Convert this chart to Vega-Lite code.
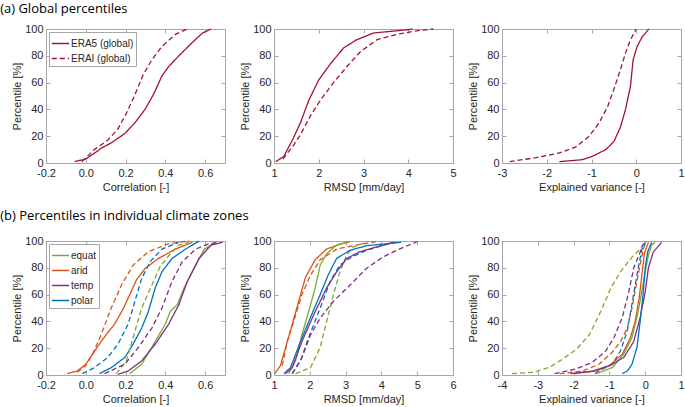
{
  "$schema": "https://vega.github.io/schema/vega-lite/v6.json",
  "padding": {"left": 0, "top": 2, "right": 0, "bottom": 0},
  "background": "white",
  "config": {
    "view": {"stroke": "#a6a6a6", "strokeWidth": 1},
    "axis": {
      "domain": false, "grid": false, "tickSize": -4, "tickColor": "#a6a6a6",
      "labelFont": "Liberation Sans", "labelFontSize": 11, "labelColor": "#262626",
      "labelPadding": 7, "labelFlush": false, "labelOverlap": false,
      "titleFont": "Liberation Sans", "titleFontSize": 11, "titleFontWeight": "normal", "titleColor": "#262626"
    },
    "axisX": {"labelPadding": 8, "titlePadding": 3},
    "axisY": {"titlePadding": 2},
    "legend": {
      "orient": "top-left", "offset": 3, "title": null, "strokeColor": "#a6a6a6", "fillColor": "white",
      "padding": 2, "labelFont": "Liberation Sans", "labelFontSize": 10, "labelColor": "#262626",
      "symbolType": "stroke", "symbolSize": 300, "symbolStrokeWidth": 1.5, "rowPadding": 0, "labelOffset": 1
    },
    "title": {"anchor": "start", "font": "Open Sans", "fontSize": 13, "fontWeight": "normal", "color": "black", "dx": -11}
  },
  "datasets": {
    "ga": [
      {"m":"corr","d":"ERA5 (global)","x":-0.056,"p":1},{"m":"corr","d":"ERA5 (global)","x":0,"p":3},{"m":"corr","d":"ERA5 (global)","x":0.06,"p":9},{"m":"corr","d":"ERA5 (global)","x":0.077,"p":11},{"m":"corr","d":"ERA5 (global)","x":0.128,"p":15},{"m":"corr","d":"ERA5 (global)","x":0.196,"p":22},{"m":"corr","d":"ERA5 (global)","x":0.247,"p":30},{"m":"corr","d":"ERA5 (global)","x":0.298,"p":40},{"m":"corr","d":"ERA5 (global)","x":0.34,"p":51},{"m":"corr","d":"ERA5 (global)","x":0.383,"p":65},{"m":"corr","d":"ERA5 (global)","x":0.417,"p":72},{"m":"corr","d":"ERA5 (global)","x":0.468,"p":80},{"m":"corr","d":"ERA5 (global)","x":0.536,"p":90},{"m":"corr","d":"ERA5 (global)","x":0.587,"p":97},{"m":"corr","d":"ERA5 (global)","x":0.63,"p":100},
      {"m":"corr","d":"ERAI (global)","x":-0.02,"p":1},{"m":"corr","d":"ERAI (global)","x":0.043,"p":10},{"m":"corr","d":"ERAI (global)","x":0.11,"p":17},{"m":"corr","d":"ERAI (global)","x":0.16,"p":25},{"m":"corr","d":"ERAI (global)","x":0.204,"p":37},{"m":"corr","d":"ERAI (global)","x":0.247,"p":51},{"m":"corr","d":"ERAI (global)","x":0.289,"p":66},{"m":"corr","d":"ERAI (global)","x":0.332,"p":77},{"m":"corr","d":"ERAI (global)","x":0.383,"p":87},{"m":"corr","d":"ERAI (global)","x":0.451,"p":96},{"m":"corr","d":"ERAI (global)","x":0.51,"p":100},
      {"m":"rmsd","d":"ERA5 (global)","x":1.04,"p":1},{"m":"rmsd","d":"ERA5 (global)","x":1.22,"p":5},{"m":"rmsd","d":"ERA5 (global)","x":1.41,"p":17},{"m":"rmsd","d":"ERA5 (global)","x":1.59,"p":30},{"m":"rmsd","d":"ERA5 (global)","x":1.78,"p":47},{"m":"rmsd","d":"ERA5 (global)","x":2.0,"p":62},{"m":"rmsd","d":"ERA5 (global)","x":2.26,"p":74},{"m":"rmsd","d":"ERA5 (global)","x":2.56,"p":86},{"m":"rmsd","d":"ERA5 (global)","x":2.85,"p":92},{"m":"rmsd","d":"ERA5 (global)","x":3.22,"p":97},{"m":"rmsd","d":"ERA5 (global)","x":4.0,"p":99.5},{"m":"rmsd","d":"ERA5 (global)","x":4.1,"p":100},
      {"m":"rmsd","d":"ERAI (global)","x":1.2,"p":3},{"m":"rmsd","d":"ERAI (global)","x":1.41,"p":12},{"m":"rmsd","d":"ERAI (global)","x":1.59,"p":21},{"m":"rmsd","d":"ERAI (global)","x":1.81,"p":35},{"m":"rmsd","d":"ERAI (global)","x":2.04,"p":47},{"m":"rmsd","d":"ERAI (global)","x":2.33,"p":60},{"m":"rmsd","d":"ERAI (global)","x":2.63,"p":72},{"m":"rmsd","d":"ERAI (global)","x":2.93,"p":83},{"m":"rmsd","d":"ERAI (global)","x":3.3,"p":92},{"m":"rmsd","d":"ERAI (global)","x":3.74,"p":96},{"m":"rmsd","d":"ERAI (global)","x":4.26,"p":99},{"m":"rmsd","d":"ERAI (global)","x":4.56,"p":100},
      {"m":"ev","d":"ERA5 (global)","x":-1.72,"p":1},{"m":"ev","d":"ERA5 (global)","x":-1.2,"p":2.5},{"m":"ev","d":"ERA5 (global)","x":-0.98,"p":5},{"m":"ev","d":"ERA5 (global)","x":-0.68,"p":10},{"m":"ev","d":"ERA5 (global)","x":-0.5,"p":16},{"m":"ev","d":"ERA5 (global)","x":-0.35,"p":27},{"m":"ev","d":"ERA5 (global)","x":-0.24,"p":40},{"m":"ev","d":"ERA5 (global)","x":-0.13,"p":57},{"m":"ev","d":"ERA5 (global)","x":-0.07,"p":77},{"m":"ev","d":"ERA5 (global)","x":0.02,"p":87},{"m":"ev","d":"ERA5 (global)","x":0.13,"p":94},{"m":"ev","d":"ERA5 (global)","x":0.28,"p":100},
      {"m":"ev","d":"ERAI (global)","x":-2.83,"p":1},{"m":"ev","d":"ERAI (global)","x":-2.24,"p":4},{"m":"ev","d":"ERAI (global)","x":-1.72,"p":7.5},{"m":"ev","d":"ERAI (global)","x":-1.35,"p":12},{"m":"ev","d":"ERAI (global)","x":-1.05,"p":20},{"m":"ev","d":"ERAI (global)","x":-0.83,"p":30},{"m":"ev","d":"ERAI (global)","x":-0.64,"p":42},{"m":"ev","d":"ERAI (global)","x":-0.5,"p":55},{"m":"ev","d":"ERAI (global)","x":-0.35,"p":70},{"m":"ev","d":"ERAI (global)","x":-0.24,"p":82},{"m":"ev","d":"ERAI (global)","x":-0.13,"p":92},{"m":"ev","d":"ERAI (global)","x":0,"p":100}
    ],
    "zb": [
      {"m":"corr","z":"arid","d":"ERA5","x":-0.094,"p":1},{"m":"corr","z":"arid","d":"ERA5","x":-0.043,"p":3},{"m":"corr","z":"arid","d":"ERA5","x":0,"p":8},{"m":"corr","z":"arid","d":"ERA5","x":0.034,"p":15.5},{"m":"corr","z":"arid","d":"ERA5","x":0.077,"p":25},{"m":"corr","z":"arid","d":"ERA5","x":0.11,"p":31.5},{"m":"corr","z":"arid","d":"ERA5","x":0.145,"p":38},{"m":"corr","z":"arid","d":"ERA5","x":0.187,"p":49},{"m":"corr","z":"arid","d":"ERA5","x":0.221,"p":60},{"m":"corr","z":"arid","d":"ERA5","x":0.255,"p":71},{"m":"corr","z":"arid","d":"ERA5","x":0.298,"p":79.5},{"m":"corr","z":"arid","d":"ERA5","x":0.366,"p":87},{"m":"corr","z":"arid","d":"ERA5","x":0.451,"p":94},{"m":"corr","z":"arid","d":"ERA5","x":0.536,"p":99},
      {"m":"corr","z":"arid","d":"ERAI","x":-0.043,"p":2},{"m":"corr","z":"arid","d":"ERAI","x":0,"p":7},{"m":"corr","z":"arid","d":"ERAI","x":0.034,"p":15.5},{"m":"corr","z":"arid","d":"ERAI","x":0.077,"p":30},{"m":"corr","z":"arid","d":"ERAI","x":0.128,"p":50},{"m":"corr","z":"arid","d":"ERAI","x":0.179,"p":67},{"m":"corr","z":"arid","d":"ERAI","x":0.238,"p":82},{"m":"corr","z":"arid","d":"ERAI","x":0.315,"p":92},{"m":"corr","z":"arid","d":"ERAI","x":0.417,"p":98},{"m":"corr","z":"arid","d":"ERAI","x":0.519,"p":100},
      {"m":"corr","z":"polar","d":"ERA5","x":0.068,"p":1},{"m":"corr","z":"polar","d":"ERA5","x":0.128,"p":5.5},{"m":"corr","z":"polar","d":"ERA5","x":0.196,"p":13},{"m":"corr","z":"polar","d":"ERA5","x":0.238,"p":23},{"m":"corr","z":"polar","d":"ERA5","x":0.281,"p":35},{"m":"corr","z":"polar","d":"ERA5","x":0.315,"p":47.5},{"m":"corr","z":"polar","d":"ERA5","x":0.349,"p":65},{"m":"corr","z":"polar","d":"ERA5","x":0.383,"p":77},{"m":"corr","z":"polar","d":"ERA5","x":0.434,"p":87},{"m":"corr","z":"polar","d":"ERA5","x":0.502,"p":94},{"m":"corr","z":"polar","d":"ERA5","x":0.57,"p":100},
      {"m":"corr","z":"polar","d":"ERAI","x":-0.017,"p":1},{"m":"corr","z":"polar","d":"ERAI","x":0.043,"p":5.5},{"m":"corr","z":"polar","d":"ERAI","x":0.11,"p":13},{"m":"corr","z":"polar","d":"ERAI","x":0.162,"p":23},{"m":"corr","z":"polar","d":"ERAI","x":0.213,"p":38},{"m":"corr","z":"polar","d":"ERAI","x":0.247,"p":55},{"m":"corr","z":"polar","d":"ERAI","x":0.281,"p":72},{"m":"corr","z":"polar","d":"ERAI","x":0.323,"p":84.5},{"m":"corr","z":"polar","d":"ERAI","x":0.383,"p":94},{"m":"corr","z":"polar","d":"ERAI","x":0.468,"p":99},
      {"m":"corr","z":"equat","d":"ERA5","x":0.221,"p":1},{"m":"corr","z":"equat","d":"ERA5","x":0.281,"p":8},{"m":"corr","z":"equat","d":"ERA5","x":0.349,"p":25},{"m":"corr","z":"equat","d":"ERA5","x":0.4,"p":38},{"m":"corr","z":"equat","d":"ERA5","x":0.425,"p":47.5},{"m":"corr","z":"equat","d":"ERA5","x":0.46,"p":52.5},{"m":"corr","z":"equat","d":"ERA5","x":0.494,"p":65},{"m":"corr","z":"equat","d":"ERA5","x":0.553,"p":82},{"m":"corr","z":"equat","d":"ERA5","x":0.596,"p":94},{"m":"corr","z":"equat","d":"ERA5","x":0.655,"p":99},
      {"m":"corr","z":"equat","d":"ERAI","x":0.153,"p":1},{"m":"corr","z":"equat","d":"ERAI","x":0.204,"p":10.5},{"m":"corr","z":"equat","d":"ERAI","x":0.238,"p":28},{"m":"corr","z":"equat","d":"ERAI","x":0.281,"p":50},{"m":"corr","z":"equat","d":"ERAI","x":0.332,"p":67},{"m":"corr","z":"equat","d":"ERAI","x":0.374,"p":81},{"m":"corr","z":"equat","d":"ERAI","x":0.417,"p":89},{"m":"corr","z":"equat","d":"ERAI","x":0.468,"p":97},{"m":"corr","z":"equat","d":"ERAI","x":0.519,"p":99},
      {"m":"corr","z":"temp","d":"ERA5","x":0.162,"p":0.5},{"m":"corr","z":"temp","d":"ERA5","x":0.213,"p":3},{"m":"corr","z":"temp","d":"ERA5","x":0.281,"p":10.5},{"m":"corr","z":"temp","d":"ERA5","x":0.349,"p":23},{"m":"corr","z":"temp","d":"ERA5","x":0.417,"p":38},{"m":"corr","z":"temp","d":"ERA5","x":0.468,"p":52.5},{"m":"corr","z":"temp","d":"ERA5","x":0.511,"p":70},{"m":"corr","z":"temp","d":"ERA5","x":0.57,"p":87},{"m":"corr","z":"temp","d":"ERA5","x":0.63,"p":97},{"m":"corr","z":"temp","d":"ERA5","x":0.689,"p":99},
      {"m":"corr","z":"temp","d":"ERAI","x":0.094,"p":1},{"m":"corr","z":"temp","d":"ERAI","x":0.196,"p":8},{"m":"corr","z":"temp","d":"ERAI","x":0.264,"p":20.5},{"m":"corr","z":"temp","d":"ERAI","x":0.332,"p":35},{"m":"corr","z":"temp","d":"ERAI","x":0.383,"p":50},{"m":"corr","z":"temp","d":"ERAI","x":0.434,"p":70},{"m":"corr","z":"temp","d":"ERAI","x":0.485,"p":84.5},{"m":"corr","z":"temp","d":"ERAI","x":0.553,"p":94},{"m":"corr","z":"temp","d":"ERAI","x":0.621,"p":98},{"m":"corr","z":"temp","d":"ERAI","x":0.672,"p":99},
      {"m":"rmsd","z":"arid","d":"ERA5","x":1.02,"p":1},{"m":"rmsd","z":"arid","d":"ERA5","x":1.18,"p":7},{"m":"rmsd","z":"arid","d":"ERA5","x":1.32,"p":20},{"m":"rmsd","z":"arid","d":"ERA5","x":1.51,"p":38},{"m":"rmsd","z":"arid","d":"ERA5","x":1.69,"p":55},{"m":"rmsd","z":"arid","d":"ERA5","x":1.88,"p":73},{"m":"rmsd","z":"arid","d":"ERA5","x":2.15,"p":86},{"m":"rmsd","z":"arid","d":"ERA5","x":2.47,"p":94},{"m":"rmsd","z":"arid","d":"ERA5","x":2.84,"p":97.5},{"m":"rmsd","z":"arid","d":"ERA5","x":3.12,"p":99.5},
      {"m":"rmsd","z":"arid","d":"ERAI","x":1.23,"p":7},{"m":"rmsd","z":"arid","d":"ERAI","x":1.37,"p":25},{"m":"rmsd","z":"arid","d":"ERAI","x":1.55,"p":40},{"m":"rmsd","z":"arid","d":"ERAI","x":1.78,"p":60},{"m":"rmsd","z":"arid","d":"ERAI","x":2.02,"p":74.5},{"m":"rmsd","z":"arid","d":"ERAI","x":2.29,"p":86},{"m":"rmsd","z":"arid","d":"ERAI","x":2.76,"p":94},{"m":"rmsd","z":"arid","d":"ERAI","x":3.4,"p":97.5},{"m":"rmsd","z":"arid","d":"ERAI","x":3.86,"p":99.5},
      {"m":"rmsd","z":"equat","d":"ERA5","x":1.41,"p":1},{"m":"rmsd","z":"equat","d":"ERA5","x":1.6,"p":10.5},{"m":"rmsd","z":"equat","d":"ERA5","x":1.78,"p":30},{"m":"rmsd","z":"equat","d":"ERA5","x":1.97,"p":47.5},{"m":"rmsd","z":"equat","d":"ERA5","x":2.15,"p":65},{"m":"rmsd","z":"equat","d":"ERA5","x":2.29,"p":82},{"m":"rmsd","z":"equat","d":"ERA5","x":2.47,"p":90.5},{"m":"rmsd","z":"equat","d":"ERA5","x":2.75,"p":97},{"m":"rmsd","z":"equat","d":"ERA5","x":3.03,"p":99},
      {"m":"rmsd","z":"equat","d":"ERAI","x":1.6,"p":1},{"m":"rmsd","z":"equat","d":"ERAI","x":2.02,"p":5.5},{"m":"rmsd","z":"equat","d":"ERAI","x":2.29,"p":20.5},{"m":"rmsd","z":"equat","d":"ERAI","x":2.47,"p":40},{"m":"rmsd","z":"equat","d":"ERAI","x":2.66,"p":60},{"m":"rmsd","z":"equat","d":"ERAI","x":2.84,"p":77},{"m":"rmsd","z":"equat","d":"ERAI","x":3.03,"p":89.5},{"m":"rmsd","z":"equat","d":"ERAI","x":3.21,"p":95.5},{"m":"rmsd","z":"equat","d":"ERAI","x":3.58,"p":99},
      {"m":"rmsd","z":"polar","d":"ERA5","x":1.28,"p":1},{"m":"rmsd","z":"polar","d":"ERA5","x":1.46,"p":5.5},{"m":"rmsd","z":"polar","d":"ERA5","x":1.74,"p":25},{"m":"rmsd","z":"polar","d":"ERA5","x":2.02,"p":43},{"m":"rmsd","z":"polar","d":"ERA5","x":2.29,"p":60},{"m":"rmsd","z":"polar","d":"ERA5","x":2.52,"p":75},{"m":"rmsd","z":"polar","d":"ERA5","x":2.75,"p":87},{"m":"rmsd","z":"polar","d":"ERA5","x":3.12,"p":93},{"m":"rmsd","z":"polar","d":"ERA5","x":3.58,"p":96.5},{"m":"rmsd","z":"polar","d":"ERA5","x":4.55,"p":99},
      {"m":"rmsd","z":"polar","d":"ERAI","x":1.51,"p":1},{"m":"rmsd","z":"polar","d":"ERAI","x":1.74,"p":10.5},{"m":"rmsd","z":"polar","d":"ERAI","x":1.97,"p":28},{"m":"rmsd","z":"polar","d":"ERAI","x":2.29,"p":50},{"m":"rmsd","z":"polar","d":"ERAI","x":2.57,"p":70},{"m":"rmsd","z":"polar","d":"ERAI","x":2.84,"p":82},{"m":"rmsd","z":"polar","d":"ERAI","x":3.17,"p":88},{"m":"rmsd","z":"polar","d":"ERAI","x":3.58,"p":93},{"m":"rmsd","z":"polar","d":"ERAI","x":4.14,"p":97.5},{"m":"rmsd","z":"polar","d":"ERAI","x":4.41,"p":99},
      {"m":"rmsd","z":"temp","d":"ERA5","x":1.32,"p":1},{"m":"rmsd","z":"temp","d":"ERA5","x":1.51,"p":5.5},{"m":"rmsd","z":"temp","d":"ERA5","x":1.78,"p":25},{"m":"rmsd","z":"temp","d":"ERA5","x":2.11,"p":45},{"m":"rmsd","z":"temp","d":"ERA5","x":2.47,"p":65},{"m":"rmsd","z":"temp","d":"ERA5","x":2.75,"p":77},{"m":"rmsd","z":"temp","d":"ERA5","x":3.03,"p":87},{"m":"rmsd","z":"temp","d":"ERA5","x":3.4,"p":92},{"m":"rmsd","z":"temp","d":"ERA5","x":3.86,"p":95.5},{"m":"rmsd","z":"temp","d":"ERA5","x":4.33,"p":99},
      {"m":"rmsd","z":"temp","d":"ERAI","x":1.51,"p":1},{"m":"rmsd","z":"temp","d":"ERAI","x":1.78,"p":13},{"m":"rmsd","z":"temp","d":"ERAI","x":2.02,"p":30},{"m":"rmsd","z":"temp","d":"ERAI","x":2.29,"p":42.5},{"m":"rmsd","z":"temp","d":"ERAI","x":2.66,"p":55},{"m":"rmsd","z":"temp","d":"ERAI","x":3.12,"p":67},{"m":"rmsd","z":"temp","d":"ERAI","x":3.58,"p":79.5},{"m":"rmsd","z":"temp","d":"ERAI","x":4.04,"p":88},{"m":"rmsd","z":"temp","d":"ERAI","x":4.5,"p":94},{"m":"rmsd","z":"temp","d":"ERAI","x":5.0,"p":99.5},
      {"m":"ev","z":"equat","d":"ERAI","x":-3.72,"p":1},{"m":"ev","z":"equat","d":"ERAI","x":-3.12,"p":2},{"m":"ev","z":"equat","d":"ERAI","x":-2.66,"p":6},{"m":"ev","z":"equat","d":"ERAI","x":-2.3,"p":12},{"m":"ev","z":"equat","d":"ERAI","x":-1.93,"p":19},{"m":"ev","z":"equat","d":"ERAI","x":-1.56,"p":30},{"m":"ev","z":"equat","d":"ERAI","x":-1.24,"p":47.5},{"m":"ev","z":"equat","d":"ERAI","x":-0.96,"p":65},{"m":"ev","z":"equat","d":"ERAI","x":-0.69,"p":77},{"m":"ev","z":"equat","d":"ERAI","x":-0.37,"p":88},{"m":"ev","z":"equat","d":"ERAI","x":-0.14,"p":94},{"m":"ev","z":"equat","d":"ERAI","x":0,"p":99},
      {"m":"ev","z":"temp","d":"ERAI","x":-2.53,"p":1},{"m":"ev","z":"temp","d":"ERAI","x":-1.93,"p":4.5},{"m":"ev","z":"temp","d":"ERAI","x":-1.47,"p":9.5},{"m":"ev","z":"temp","d":"ERAI","x":-1.1,"p":18},{"m":"ev","z":"temp","d":"ERAI","x":-0.87,"p":28},{"m":"ev","z":"temp","d":"ERAI","x":-0.64,"p":43},{"m":"ev","z":"temp","d":"ERAI","x":-0.46,"p":62},{"m":"ev","z":"temp","d":"ERAI","x":-0.32,"p":80},{"m":"ev","z":"temp","d":"ERAI","x":-0.18,"p":89},{"m":"ev","z":"temp","d":"ERAI","x":-0.05,"p":98},
      {"m":"ev","z":"arid","d":"ERAI","x":-2.39,"p":1},{"m":"ev","z":"arid","d":"ERAI","x":-1.75,"p":3},{"m":"ev","z":"arid","d":"ERAI","x":-1.29,"p":8},{"m":"ev","z":"arid","d":"ERAI","x":-0.92,"p":17},{"m":"ev","z":"arid","d":"ERAI","x":-0.69,"p":25},{"m":"ev","z":"arid","d":"ERAI","x":-0.5,"p":35},{"m":"ev","z":"arid","d":"ERAI","x":-0.37,"p":50},{"m":"ev","z":"arid","d":"ERAI","x":-0.23,"p":70},{"m":"ev","z":"arid","d":"ERAI","x":-0.11,"p":87},{"m":"ev","z":"arid","d":"ERAI","x":0,"p":99},
      {"m":"ev","z":"polar","d":"ERAI","x":-1.4,"p":1},{"m":"ev","z":"polar","d":"ERAI","x":-1.29,"p":3},{"m":"ev","z":"polar","d":"ERAI","x":-0.92,"p":8},{"m":"ev","z":"polar","d":"ERAI","x":-0.69,"p":18},{"m":"ev","z":"polar","d":"ERAI","x":-0.5,"p":33},{"m":"ev","z":"polar","d":"ERAI","x":-0.39,"p":50},{"m":"ev","z":"polar","d":"ERAI","x":-0.28,"p":67},{"m":"ev","z":"polar","d":"ERAI","x":-0.18,"p":82},{"m":"ev","z":"polar","d":"ERAI","x":-0.09,"p":94},{"m":"ev","z":"polar","d":"ERAI","x":0,"p":99},
      {"m":"ev","z":"arid","d":"ERA5","x":-2.0,"p":1},{"m":"ev","z":"arid","d":"ERA5","x":-1.37,"p":3},{"m":"ev","z":"arid","d":"ERA5","x":-1.0,"p":7},{"m":"ev","z":"arid","d":"ERA5","x":-0.64,"p":15.5},{"m":"ev","z":"arid","d":"ERA5","x":-0.41,"p":28},{"m":"ev","z":"arid","d":"ERA5","x":-0.28,"p":40},{"m":"ev","z":"arid","d":"ERA5","x":-0.17,"p":57},{"m":"ev","z":"arid","d":"ERA5","x":-0.09,"p":75},{"m":"ev","z":"arid","d":"ERA5","x":-0.02,"p":91},{"m":"ev","z":"arid","d":"ERA5","x":0.09,"p":99},
      {"m":"ev","z":"equat","d":"ERA5","x":-1.37,"p":1},{"m":"ev","z":"equat","d":"ERA5","x":-0.92,"p":5.5},{"m":"ev","z":"equat","d":"ERA5","x":-0.6,"p":15.5},{"m":"ev","z":"equat","d":"ERA5","x":-0.37,"p":28},{"m":"ev","z":"equat","d":"ERA5","x":-0.23,"p":43},{"m":"ev","z":"equat","d":"ERA5","x":-0.11,"p":60},{"m":"ev","z":"equat","d":"ERA5","x":0,"p":77},{"m":"ev","z":"equat","d":"ERA5","x":0.09,"p":89.5},{"m":"ev","z":"equat","d":"ERA5","x":0.18,"p":97},{"m":"ev","z":"equat","d":"ERA5","x":0.28,"p":99},
      {"m":"ev","z":"temp","d":"ERA5","x":-2.09,"p":1},{"m":"ev","z":"temp","d":"ERA5","x":-1.46,"p":3},{"m":"ev","z":"temp","d":"ERA5","x":-1.0,"p":7},{"m":"ev","z":"temp","d":"ERA5","x":-0.6,"p":13},{"m":"ev","z":"temp","d":"ERA5","x":-0.32,"p":25},{"m":"ev","z":"temp","d":"ERA5","x":-0.14,"p":43},{"m":"ev","z":"temp","d":"ERA5","x":0,"p":62},{"m":"ev","z":"temp","d":"ERA5","x":0.09,"p":80},{"m":"ev","z":"temp","d":"ERA5","x":0.23,"p":92},{"m":"ev","z":"temp","d":"ERA5","x":0.46,"p":99},
      {"m":"ev","z":"polar","d":"ERA5","x":-0.64,"p":1},{"m":"ev","z":"polar","d":"ERA5","x":-0.5,"p":3},{"m":"ev","z":"polar","d":"ERA5","x":-0.37,"p":8},{"m":"ev","z":"polar","d":"ERA5","x":-0.23,"p":20.5},{"m":"ev","z":"polar","d":"ERA5","x":-0.14,"p":40},{"m":"ev","z":"polar","d":"ERA5","x":-0.06,"p":60},{"m":"ev","z":"polar","d":"ERA5","x":0,"p":80},{"m":"ev","z":"polar","d":"ERA5","x":0.07,"p":92},{"m":"ev","z":"polar","d":"ERA5","x":0.18,"p":99}
    ]
  },
  "resolve": {"scale": {"color": "independent", "strokeDash": "independent"}},
  "spacing": 16,
  "vconcat": [
    {
      "title": {"text": "(a) Global percentiles", "offset": 7},
      "bounds": "flush",
      "spacing": 49,
      "resolve": {"scale": {"color": "independent", "strokeDash": "independent"}},
      "hconcat": [
        {
          "width": 179, "height": 134,
          "data": {"name": "ga"},
          "transform": [{"filter": "datum.m == 'corr'"}],
          "resolve": {"axis": {"x": "independent", "y": "independent"}},
          "layer": [
            {
              "mark": {"type": "line", "strokeWidth": 1.3, "color": "#A2142F"},
              "encoding": {
                "x": {"field": "x", "type": "quantitative", "scale": {"domain": [-0.2, 0.7], "nice": false, "zero": false}, "axis": {"orient": "bottom", "values": [-0.2, 0, 0.2, 0.4, 0.6], "title": "Correlation [-]", "labelExpr": "replace(datum.label, '\u2212', '-')"}},
                "y": {"field": "p", "type": "quantitative", "scale": {"domain": [0, 100], "nice": false}, "axis": {"orient": "left", "values": [0, 20, 40, 60, 80, 100], "title": "Percentile [%]"}},
                "strokeDash": {"field": "d", "type": "nominal", "scale": {"domain": ["ERA5 (global)", "ERAI (global)"], "range": [[1, 0], [5, 3]]}, "legend": {"symbolStrokeColor": "#A2142F"}}
              }
            },
            {
              "mark": {"type": "point", "opacity": 0},
              "encoding": {
                "x": {"field": "x", "type": "quantitative", "scale": {"domain": [-0.2, 0.7], "nice": false, "zero": false}, "axis": {"orient": "top", "values": [-0.2, 0, 0.2, 0.4, 0.6], "labels": false, "title": null}},
                "y": {"field": "p", "type": "quantitative", "scale": {"domain": [0, 100], "nice": false}, "axis": {"orient": "right", "values": [0, 20, 40, 60, 80, 100], "labels": false, "title": null}}
              }
            }
          ]
        },
        {
          "width": 179, "height": 134,
          "data": {"name": "ga"},
          "transform": [{"filter": "datum.m == 'rmsd'"}],
          "resolve": {"axis": {"x": "independent", "y": "independent"}},
          "layer": [
            {
              "mark": {"type": "line", "strokeWidth": 1.3, "color": "#A2142F"},
              "encoding": {
                "x": {"field": "x", "type": "quantitative", "scale": {"domain": [1, 5], "nice": false, "zero": false}, "axis": {"orient": "bottom", "values": [1, 2, 3, 4, 5], "title": "RMSD [mm/day]"}},
                "y": {"field": "p", "type": "quantitative", "scale": {"domain": [0, 100], "nice": false}, "axis": {"orient": "left", "values": [0, 20, 40, 60, 80, 100], "title": "Percentile [%]"}},
                "strokeDash": {"field": "d", "type": "nominal", "scale": {"domain": ["ERA5 (global)", "ERAI (global)"], "range": [[1, 0], [5, 3]]}, "legend": null}
              }
            },
            {
              "mark": {"type": "point", "opacity": 0},
              "encoding": {
                "x": {"field": "x", "type": "quantitative", "scale": {"domain": [1, 5], "nice": false, "zero": false}, "axis": {"orient": "top", "values": [1, 2, 3, 4, 5], "labels": false, "title": null}},
                "y": {"field": "p", "type": "quantitative", "scale": {"domain": [0, 100], "nice": false}, "axis": {"orient": "right", "values": [0, 20, 40, 60, 80, 100], "labels": false, "title": null}}
              }
            }
          ]
        },
        {
          "width": 179, "height": 134,
          "data": {"name": "ga"},
          "transform": [{"filter": "datum.m == 'ev'"}],
          "resolve": {"axis": {"x": "independent", "y": "independent"}},
          "layer": [
            {
              "mark": {"type": "line", "strokeWidth": 1.3, "color": "#A2142F"},
              "encoding": {
                "x": {"field": "x", "type": "quantitative", "scale": {"domain": [-3, 1], "nice": false, "zero": false}, "axis": {"orient": "bottom", "values": [-3, -2, -1, 0, 1], "title": "Explained variance [-]", "labelExpr": "replace(datum.label, '\u2212', '-')"}},
                "y": {"field": "p", "type": "quantitative", "scale": {"domain": [0, 100], "nice": false}, "axis": {"orient": "left", "values": [0, 20, 40, 60, 80, 100], "title": "Percentile [%]"}},
                "strokeDash": {"field": "d", "type": "nominal", "scale": {"domain": ["ERA5 (global)", "ERAI (global)"], "range": [[1, 0], [5, 3]]}, "legend": null}
              }
            },
            {
              "mark": {"type": "point", "opacity": 0},
              "encoding": {
                "x": {"field": "x", "type": "quantitative", "scale": {"domain": [-3, 1], "nice": false, "zero": false}, "axis": {"orient": "top", "values": [-3, -2, -1, 0, 1], "labels": false, "title": null}},
                "y": {"field": "p", "type": "quantitative", "scale": {"domain": [0, 100], "nice": false}, "axis": {"orient": "right", "values": [0, 20, 40, 60, 80, 100], "labels": false, "title": null}}
              }
            }
          ]
        }
      ]
    },
    {
      "title": {"text": "(b) Percentiles in individual climate zones", "offset": 12},
      "bounds": "flush",
      "spacing": 49,
      "resolve": {"scale": {"color": "independent", "strokeDash": "independent"}},
      "hconcat": [
        {
          "width": 179, "height": 134,
          "data": {"name": "zb"},
          "transform": [{"filter": "datum.m == 'corr'"}],
          "resolve": {"axis": {"x": "independent", "y": "independent"}},
          "layer": [
            {
              "mark": {"type": "line", "strokeWidth": 1.3},
              "encoding": {
                "x": {"field": "x", "type": "quantitative", "scale": {"domain": [-0.2, 0.7], "nice": false, "zero": false}, "axis": {"orient": "bottom", "values": [-0.2, 0, 0.2, 0.4, 0.6], "title": "Correlation [-]", "labelExpr": "replace(datum.label, '\u2212', '-')"}},
                "y": {"field": "p", "type": "quantitative", "scale": {"domain": [0, 100], "nice": false}, "axis": {"orient": "left", "values": [0, 20, 40, 60, 80, 100], "title": "Percentile [%]"}},
                "color": {"field": "z", "type": "nominal", "scale": {"domain": ["equat", "arid", "temp", "polar"], "range": ["#77AC30", "#D95319", "#7E2F8E", "#0072BD"]}, "legend": {}},
                "strokeDash": {"field": "d", "type": "nominal", "scale": {"domain": ["ERA5", "ERAI"], "range": [[1, 0], [5, 3]]}, "legend": null}
              }
            },
            {
              "mark": {"type": "point", "opacity": 0},
              "encoding": {
                "x": {"field": "x", "type": "quantitative", "scale": {"domain": [-0.2, 0.7], "nice": false, "zero": false}, "axis": {"orient": "top", "values": [-0.2, 0, 0.2, 0.4, 0.6], "labels": false, "title": null}},
                "y": {"field": "p", "type": "quantitative", "scale": {"domain": [0, 100], "nice": false}, "axis": {"orient": "right", "values": [0, 20, 40, 60, 80, 100], "labels": false, "title": null}}
              }
            }
          ]
        },
        {
          "width": 179, "height": 134,
          "data": {"name": "zb"},
          "transform": [{"filter": "datum.m == 'rmsd'"}],
          "resolve": {"axis": {"x": "independent", "y": "independent"}},
          "layer": [
            {
              "mark": {"type": "line", "strokeWidth": 1.3},
              "encoding": {
                "x": {"field": "x", "type": "quantitative", "scale": {"domain": [1, 6], "nice": false, "zero": false}, "axis": {"orient": "bottom", "values": [1, 2, 3, 4, 5, 6], "title": "RMSD [mm/day]"}},
                "y": {"field": "p", "type": "quantitative", "scale": {"domain": [0, 100], "nice": false}, "axis": {"orient": "left", "values": [0, 20, 40, 60, 80, 100], "title": "Percentile [%]"}},
                "color": {"field": "z", "type": "nominal", "scale": {"domain": ["equat", "arid", "temp", "polar"], "range": ["#77AC30", "#D95319", "#7E2F8E", "#0072BD"]}, "legend": null},
                "strokeDash": {"field": "d", "type": "nominal", "scale": {"domain": ["ERA5", "ERAI"], "range": [[1, 0], [5, 3]]}, "legend": null}
              }
            },
            {
              "mark": {"type": "point", "opacity": 0},
              "encoding": {
                "x": {"field": "x", "type": "quantitative", "scale": {"domain": [1, 6], "nice": false, "zero": false}, "axis": {"orient": "top", "values": [1, 2, 3, 4, 5, 6], "labels": false, "title": null}},
                "y": {"field": "p", "type": "quantitative", "scale": {"domain": [0, 100], "nice": false}, "axis": {"orient": "right", "values": [0, 20, 40, 60, 80, 100], "labels": false, "title": null}}
              }
            }
          ]
        },
        {
          "width": 179, "height": 134,
          "data": {"name": "zb"},
          "transform": [{"filter": "datum.m == 'ev'"}],
          "resolve": {"axis": {"x": "independent", "y": "independent"}},
          "layer": [
            {
              "mark": {"type": "line", "strokeWidth": 1.3},
              "encoding": {
                "x": {"field": "x", "type": "quantitative", "scale": {"domain": [-4, 1], "nice": false, "zero": false}, "axis": {"orient": "bottom", "values": [-4, -3, -2, -1, 0, 1], "title": "Explained variance [-]", "labelExpr": "replace(datum.label, '\u2212', '-')"}},
                "y": {"field": "p", "type": "quantitative", "scale": {"domain": [0, 100], "nice": false}, "axis": {"orient": "left", "values": [0, 20, 40, 60, 80, 100], "title": "Percentile [%]"}},
                "color": {"field": "z", "type": "nominal", "scale": {"domain": ["equat", "arid", "temp", "polar"], "range": ["#77AC30", "#D95319", "#7E2F8E", "#0072BD"]}, "legend": null},
                "strokeDash": {"field": "d", "type": "nominal", "scale": {"domain": ["ERA5", "ERAI"], "range": [[1, 0], [5, 3]]}, "legend": null}
              }
            },
            {
              "mark": {"type": "point", "opacity": 0},
              "encoding": {
                "x": {"field": "x", "type": "quantitative", "scale": {"domain": [-4, 1], "nice": false, "zero": false}, "axis": {"orient": "top", "values": [-4, -3, -2, -1, 0, 1], "labels": false, "title": null}},
                "y": {"field": "p", "type": "quantitative", "scale": {"domain": [0, 100], "nice": false}, "axis": {"orient": "right", "values": [0, 20, 40, 60, 80, 100], "labels": false, "title": null}}
              }
            }
          ]
        }
      ]
    }
  ]
}
